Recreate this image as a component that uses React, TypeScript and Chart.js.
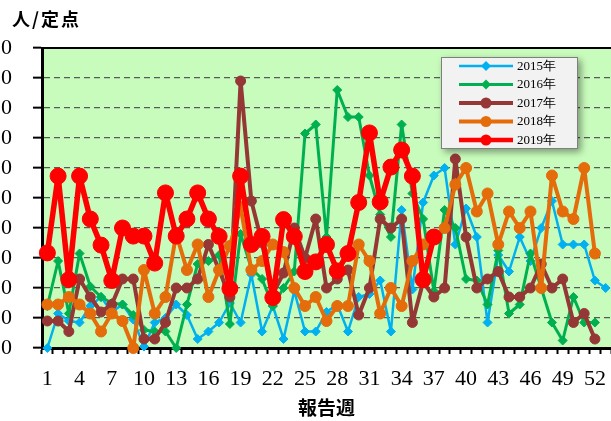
import React, { useEffect, useRef } from 'react';
import { Chart, registerables } from 'chart.js';

Chart.register(...registerables);

const weeks = ['1','2','3','4','5','6','7','8','9','10','11','12','13','14','15','16','17','18','19','20','21','22','23','24','25','26','27','28','29','30','31','32','33','34','35','36','37','38','39','40','41','42','43','44','45','46','47','48','49','50','51','52','53'];

const s2015 = [0, 1.15, 0.9, 0.85, 1.4, 1.7, 1.2, 1.45, 0.95, 0.05, 0.85, 1.0, 1.45, 1.1, 0.3, 0.55, 0.85, 1.5, 0.85, 2.45, 0.55, 1.4, 0.3, 1.9, 0.55, 0.55, 1.2, 1.45, 0.55, 1.7, 1.8, 2.25, 0.55, 4.6, 1.95, 4.85, 5.75, 6.0, 3.45, 4.65, 3.7, 0.85, 3.1, 2.55, 3.7, 2.9, 4.0, 4.9, 3.45, 3.45, 3.45, 2.25, 2.0];
const s2016 = [1.4, 2.9, 1.15, 3.15, 2.05, 1.7, 1.5, 1.45, 1.1, 0.6, 0.55, 0.55, 0, 1.45, 2.8, 2.9, 3.1, 0.8, 3.8, 2.65, 2.3, 1.4, 2.0, 2.55, 7.15, 7.45, 3.7, 8.6, 7.7, 7.7, 5.75, 4.45, 3.7, 7.45, 5.15, 4.3, 1.9, 4.6, 4.0, 2.3, 2.25, 1.45, 3.25, 1.15, 1.45, 3.15, 2.0, 0.85, 0.25, 1.7, 0.85, 0.85];
const s2017 = [0.9, 0.9, 0.55, 2.3, 1.7, 1.2, 1.45, 2.3, 2.3, 0.3, 0.3, 0.85, 2.0, 2.0, 2.3, 3.45, 2.6, 1.7, 8.9, 4.9, 3.5, 1.8, 2.5, 4.0, 3.0, 4.3, 2.0, 2.3, 2.6, 1.1, 2.0, 4.3, 4.0, 4.3, 0.85, 2.2, 1.7, 2.0, 6.3, 3.7, 2.0, 2.3, 2.55, 1.7, 1.7, 2.0, 2.8, 2.0, 2.3, 0.85, 1.15, 0.3];
const s2018 = [1.45, 1.45, 1.7, 1.45, 1.15, 0.55, 1.15, 0.9, 0, 2.6, 1.15, 1.7, 3.8, 2.6, 3.45, 1.7, 2.6, 3.4, 4.7, 2.6, 2.9, 3.45, 3.2, 2.0, 1.4, 1.7, 0.9, 1.4, 1.4, 3.45, 2.9, 1.15, 2.0, 1.4, 2.9, 3.45, 3.7, 4.0, 5.45, 6.0, 4.55, 5.15, 3.45, 4.55, 4.0, 4.55, 2.0, 5.75, 4.55, 4.3, 6.0, 3.15];
const s2019 = [3.17, 5.73, 2.28, 5.73, 4.3, 3.43, 2.25, 4.0, 3.73, 3.73, 2.83, 5.17, 3.73, 4.3, 5.17, 4.3, 3.72, 1.98, 5.73, 3.45, 3.72, 1.68, 4.28, 3.72, 2.55, 2.87, 3.45, 2.57, 3.15, 4.85, 7.17, 4.87, 6.03, 6.6, 5.73, 2.28, 3.7];

const seriesLabels = ['2015年', '2016年', '2017年', '2018年', '2019年'];
const yUnit = '人/定点';
const xTitle = '報告週';

const BG = '#c8fcbc';

const decorPlugin = {
  id: 'decor',
  beforeDraw(chart: any) {
    const { ctx, chartArea: a } = chart;
    ctx.save();
    ctx.fillStyle = BG;
    ctx.fillRect(a.left, a.top, a.right - a.left, a.bottom - a.top);
    ctx.restore();
  },
  beforeDatasetsDraw(chart: any) {
    const { ctx, chartArea: a } = chart;
    ctx.save();
    ctx.strokeStyle = '#000';
    ctx.lineWidth = 2;
    ctx.beginPath();
    ctx.moveTo(a.left, a.top);
    ctx.lineTo(a.right + 2, a.top);
    ctx.stroke();
    ctx.restore();
  },
  afterDraw(chart: any) {
    const { ctx } = chart;
    ctx.save();
    ctx.fillStyle = '#000';
    ctx.font = 'bold 18px "Noto Sans CJK JP"';
    ctx.textBaseline = 'middle';
    ctx.textAlign = 'left';
    try { (ctx as any).letterSpacing = '2px'; } catch (e) {}
    ctx.fillText(yUnit, 32, 19);
    ctx.restore();

    const bx = 461, by = 57, bw = 137, bh = 92;
    ctx.save();
    ctx.shadowColor = 'rgba(0,0,0,0.4)';
    ctx.shadowBlur = 7;
    ctx.shadowOffsetX = 3;
    ctx.shadowOffsetY = 3;
    ctx.fillStyle = '#f2f2f2';
    ctx.fillRect(bx, by, bw, bh);
    ctx.restore();
    ctx.save();
    ctx.strokeStyle = '#7f7f7f';
    ctx.lineWidth = 1;
    ctx.strokeRect(bx + 0.5, by + 0.5, bw - 1, bh - 1);
    ctx.restore();

    const dsets = chart.data.datasets;
    dsets.forEach((ds: any, i: number) => {
      const y = 66 + i * 18.5;
      const color = ds.borderColor;
      ctx.save();
      ctx.strokeStyle = color;
      ctx.fillStyle = color;
      ctx.lineWidth = Math.min(ds.borderWidth, 4.5);
      ctx.beginPath();
      ctx.moveTo(479, y);
      ctx.lineTo(533, y);
      ctx.stroke();
      const mx = 506;
      ctx.beginPath();
      if (ds.pointStyle === 'rectRot') {
        const r = 5;
        ctx.moveTo(mx, y - r);
        ctx.lineTo(mx + r, y);
        ctx.lineTo(mx, y + r);
        ctx.lineTo(mx - r, y);
        ctx.closePath();
      } else {
        ctx.arc(mx, y, 5.5, 0, Math.PI * 2);
      }
      ctx.fill();
      ctx.fillStyle = '#000';
      ctx.font = '13px "Liberation Serif"';
      ctx.textBaseline = 'middle';
      ctx.textAlign = 'left';
      ctx.fillText(ds.label, 537, y + 0.5);
      ctx.restore();
    });
  },
};

export default function App() {
  const ref = useRef<HTMLCanvasElement | null>(null);

  useEffect(() => {
    if (!ref.current) return;
    const common = { borderJoinStyle: 'round', borderCapStyle: 'round', pointBorderWidth: 1, clip: false };
    const chart = new Chart(ref.current, {
      type: 'line',
      data: {
        labels: weeks,
        datasets: [
          { ...common, label: seriesLabels[0], data: s2015, borderColor: '#00B0F0', backgroundColor: '#00B0F0', borderWidth: 2.5, pointStyle: 'rectRot', pointRadius: 4.5, order: 5 },
          { ...common, label: seriesLabels[1], data: s2016, borderColor: '#00B050', backgroundColor: '#00B050', borderWidth: 3, pointStyle: 'rectRot', pointRadius: 4.5, order: 4 },
          { ...common, label: seriesLabels[2], data: s2017, borderColor: '#953735', backgroundColor: '#953735', borderWidth: 4, pointStyle: 'circle', pointRadius: 5, order: 3 },
          { ...common, label: seriesLabels[3], data: s2018, borderColor: '#E46C0A', backgroundColor: '#E46C0A', borderWidth: 4, pointStyle: 'circle', pointRadius: 5.5, order: 2 },
          { ...common, label: seriesLabels[4], data: s2019, borderColor: '#FF0000', backgroundColor: '#FF0000', borderWidth: 5.5, pointStyle: 'circle', pointRadius: 8, order: 1 },
        ],
      },
      options: {
        animation: false,
        responsive: true,
        maintainAspectRatio: false,
        events: [],
        layout: { padding: { top: 48, right: 8, bottom: 0, left: 0 } },
        plugins: {
          legend: { display: false },
          title: { display: false },
          tooltip: { enabled: false },
        },
        elements: { line: { tension: 0 } },
        scales: {
          x: {
            offset: true,
            afterFit: (scale: any) => { scale.height = 73; },
            ticks: {
              autoSkip: false,
              maxRotation: 0,
              minRotation: 0,
              padding: 12,
              color: '#000',
              font: { family: '"Liberation Serif"', size: 22 },
              callback: (_v: any, i: number) => (i % 3 === 0 ? weeks[i] : ''),
            },
            grid: { offset: true, drawOnChartArea: false, drawTicks: true, tickLength: 6, tickColor: '#000', tickWidth: 2, color: '#000' },
            border: { display: true, color: '#000', width: 3 },
            title: {
              display: true,
              text: xTitle,
              color: '#000',
              font: { family: '"Noto Sans CJK JP"', size: 19, weight: 'bold' },
              padding: { top: 4, bottom: 2 },
            },
          },
          y: {
            min: 0,
            max: 10,
            afterFit: (scale: any) => { scale.width = 62; },
            ticks: {
              stepSize: 1,
              autoSkip: false,
              padding: 21,
              color: '#000',
              font: { family: '"Liberation Serif"', size: 22 },
              callback: (v: any) => Number(v).toFixed(1),
            },
            grid: { color: '#595959', lineWidth: 1.3, drawTicks: true, tickLength: 9, tickColor: '#000', tickWidth: 2, tickBorderDash: [], borderDash: [6, 4] },
            border: { display: true, color: '#000', width: 3, dash: [6, 4] },
          },
        },
      },
      plugins: [decorPlugin],
    } as any);
    return () => chart.destroy();
  }, []);

  return (
    <div style={{ position: 'fixed', left: 0, top: 0, width: 611, height: 421, overflow: 'hidden', background: '#fff' }}>
      <div style={{ position: 'absolute', left: -20, top: 0, width: 640, height: 421 }}>
        <canvas ref={ref} />
      </div>
    </div>
  );
}
